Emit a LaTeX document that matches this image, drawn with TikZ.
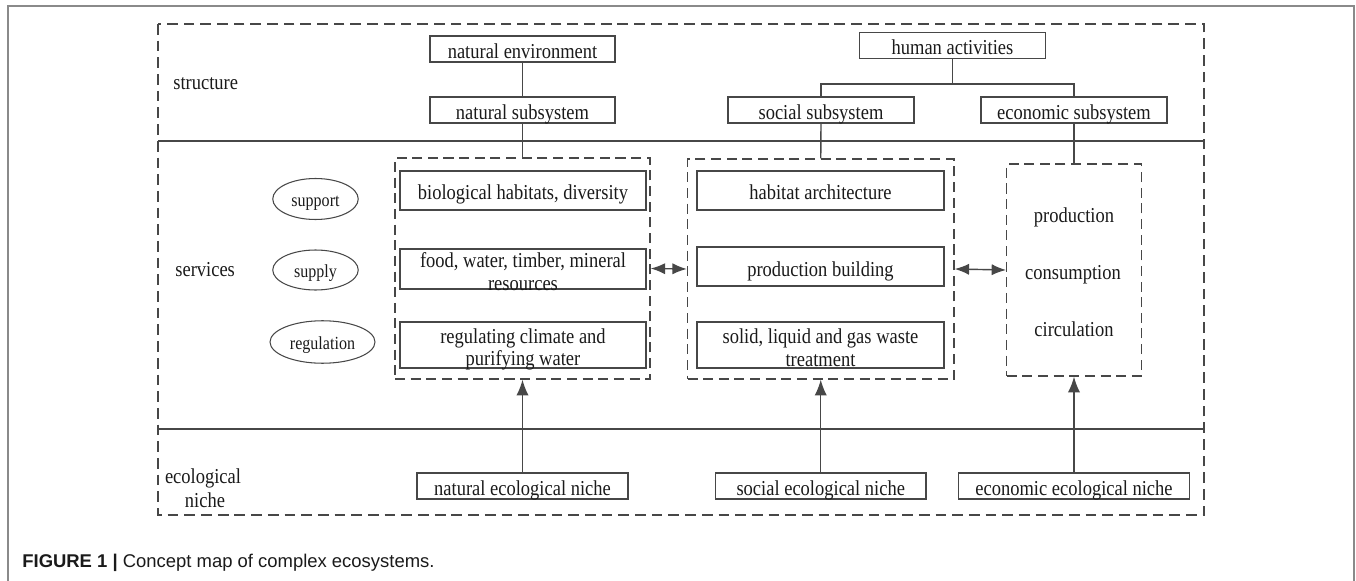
\documentclass[tikz,border=0pt]{standalone}
\usepackage{fontspec}
\setmainfont[FakeStretch=0.87]{Liberation Serif}
\setsansfont{Liberation Sans}
\usetikzlibrary{arrows.meta,shapes.geometric}
\definecolor{lc}{HTML}{474747}
\definecolor{tc}{HTML}{1A1A1A}
\definecolor{fc}{HTML}{8A8A8A}
\begin{document}
\begin{tikzpicture}[x=0.02cm,y=-0.02cm,
  tx/.style={font=\fontsize{12.1pt}{14pt}\selectfont, text=tc, inner sep=0pt},
  ln/.style={draw=lc, line width=0.8pt},
  sbox/.style={tx, ln, rectangle, text height=0.45cm, text depth=0.07cm},
  nbox/.style={tx, ln, rectangle, text height=0.44cm, text depth=0.08cm},
  ibox/.style={tx, ln, rectangle, minimum width=4.92cm},
  dbox/.style={draw=lc, line width=0.8pt, dash pattern=on 5.7pt off 3.2pt, rectangle, inner sep=0pt},
  ell/.style={ellipse, draw=lc, line width=0.6pt, inner sep=0pt, text=tc, text height=0.31cm, text depth=0cm, font=\fontsize{10.5pt}{12pt}\selectfont},
  arr/.style={ln, -{Latex[length=9pt,width=7pt]}},
  darr/.style={ln, {Latex[length=8.2pt,width=6.4pt]}-{Latex[length=8.2pt,width=6.4pt]}}
]
\useasboundingbox (0,0) rectangle (1356,581);
% frame
\draw[fc, line width=0.6pt] (8,581) -- (8,6) -- (1354,6) -- (1354,581);
% outer dashed container and separators
\draw[draw=lc, line width=0.8pt, dash pattern=on 6.1pt off 3.4pt] (158,24) rectangle (1204,515);
\draw[ln] (158,141) -- (1204,141);
\draw[ln] (158,429) -- (1204,429);
% row labels
\node[tx, anchor=base west] (lstruct) at (173,90) {structure};
\node[tx, anchor=base west] (lserv) at (175,276) {services};
\node[tx, anchor=base] (leco1) at (203,483) {ecological};
\node[tx, anchor=base] (leco2) at (205,507) {niche};
% structure boxes
\node[sbox, minimum width=3.7cm] (natenv) at (522.5,49) {natural environment};
\node[sbox, minimum width=3.7cm] (natsub) at (522.5,110) {natural subsystem};
\node[sbox, minimum width=3.72cm] (human) at (952.5,45.5) {human activities};
\node[sbox, minimum width=3.72cm] (socsub) at (821,110) {social subsystem};
\node[sbox, minimum width=3.72cm] (ecosub) at (1074,110) {economic subsystem};
% dashed service containers
\node[dbox, minimum width=5.1cm, minimum height=4.42cm] (L) at (522.5,268.5) {};
\node[dbox, minimum width=5.33cm, minimum height=4.4cm] (M) at (820.75,269) {};
\node[dbox, minimum width=2.69cm, minimum height=4.24cm] (R) at (1074,270) {};
% ellipses
\node[ell, minimum width=1.71cm, minimum height=0.82cm] (esup) at (315.5,199) {support};
\node[ell, minimum width=1.71cm, minimum height=0.8cm] (esupl) at (315.5,270) {supply};
\node[ell, minimum width=2.1cm, minimum height=0.85cm] (ereg) at (322.5,342) {regulation};
% left column boxes
\node[ibox, text height=0.566cm, text depth=0.214cm] (bio) at (523,190.5) {biological habitats, diversity};
\node[ibox, minimum height=0.8cm] (food) at (523,269) {};
\node[tx, anchor=base] (food1) at (523,267.7) {food, water, timber, mineral};
\node[tx, anchor=base] (food2) at (523,290) {resources};
\node[ibox, minimum height=0.92cm] (reg) at (523,345) {};
\node[tx, anchor=base] (reg1) at (523,343.3) {regulating climate and};
\node[tx, anchor=base] (reg2) at (523,365) {purifying water};
% middle column boxes
\node[ibox, minimum width=4.94cm, text height=0.566cm, text depth=0.214cm] (hab) at (820.5,190.5) {habitat architecture};
\node[ibox, minimum width=4.94cm, text height=0.58cm, text depth=0.2cm] (prod) at (820.5,266.5) {production building};
\node[ibox, minimum width=4.94cm, minimum height=0.92cm] (solid) at (820.5,345) {};
\node[tx, anchor=base] (solid1) at (820.5,343.3) {solid, liquid and gas waste};
\node[tx, anchor=base] (solid2) at (820.5,366) {treatment};
% right column texts
\node[tx, anchor=base] (tprod) at (1074,222.7) {production};
\node[tx, anchor=base] (tcons) at (1073,279) {consumption};
\node[tx, anchor=base] (tcirc) at (1074,336.7) {circulation};
% niche boxes
\node[nbox, minimum width=4.22cm] (nniche) at (522.5,486) {natural ecological niche};
\node[nbox, minimum width=4.21cm] (sniche) at (820.75,486) {social ecological niche};
\node[nbox, minimum width=4.62cm] (eniche) at (1074,486) {economic ecological niche};
% connectors
\draw[ln] (natenv.south) -- (natsub.north);
\draw[ln] (natsub.south) -- (L.north);
\coordinate (hj) at (952.5,84);
\draw[ln] (human.south) -- (hj);
\draw[ln] (socsub.north) |- (hj) -| (ecosub.north);
\draw[ln] (socsub.south) -- (M.north);
\draw[ln] (ecosub.south) -- (R.north);
\draw[darr] (L.east) -- (M.west);
\draw[darr] (M.east) -- (R.west);
\draw[arr] (nniche.north) -- (L.south);
\draw[arr] (sniche.north) -- (M.south);
\draw[arr] (eniche.north) -- (R.south);
% caption
\node[anchor=base west, inner sep=0pt, text=tc, font=\sffamily\fontsize{10.5pt}{12pt}\selectfont] (cap) at (22,567) {\textbf{FIGURE 1 |} Concept map of complex ecosystems.};
\end{tikzpicture}
\end{document}
